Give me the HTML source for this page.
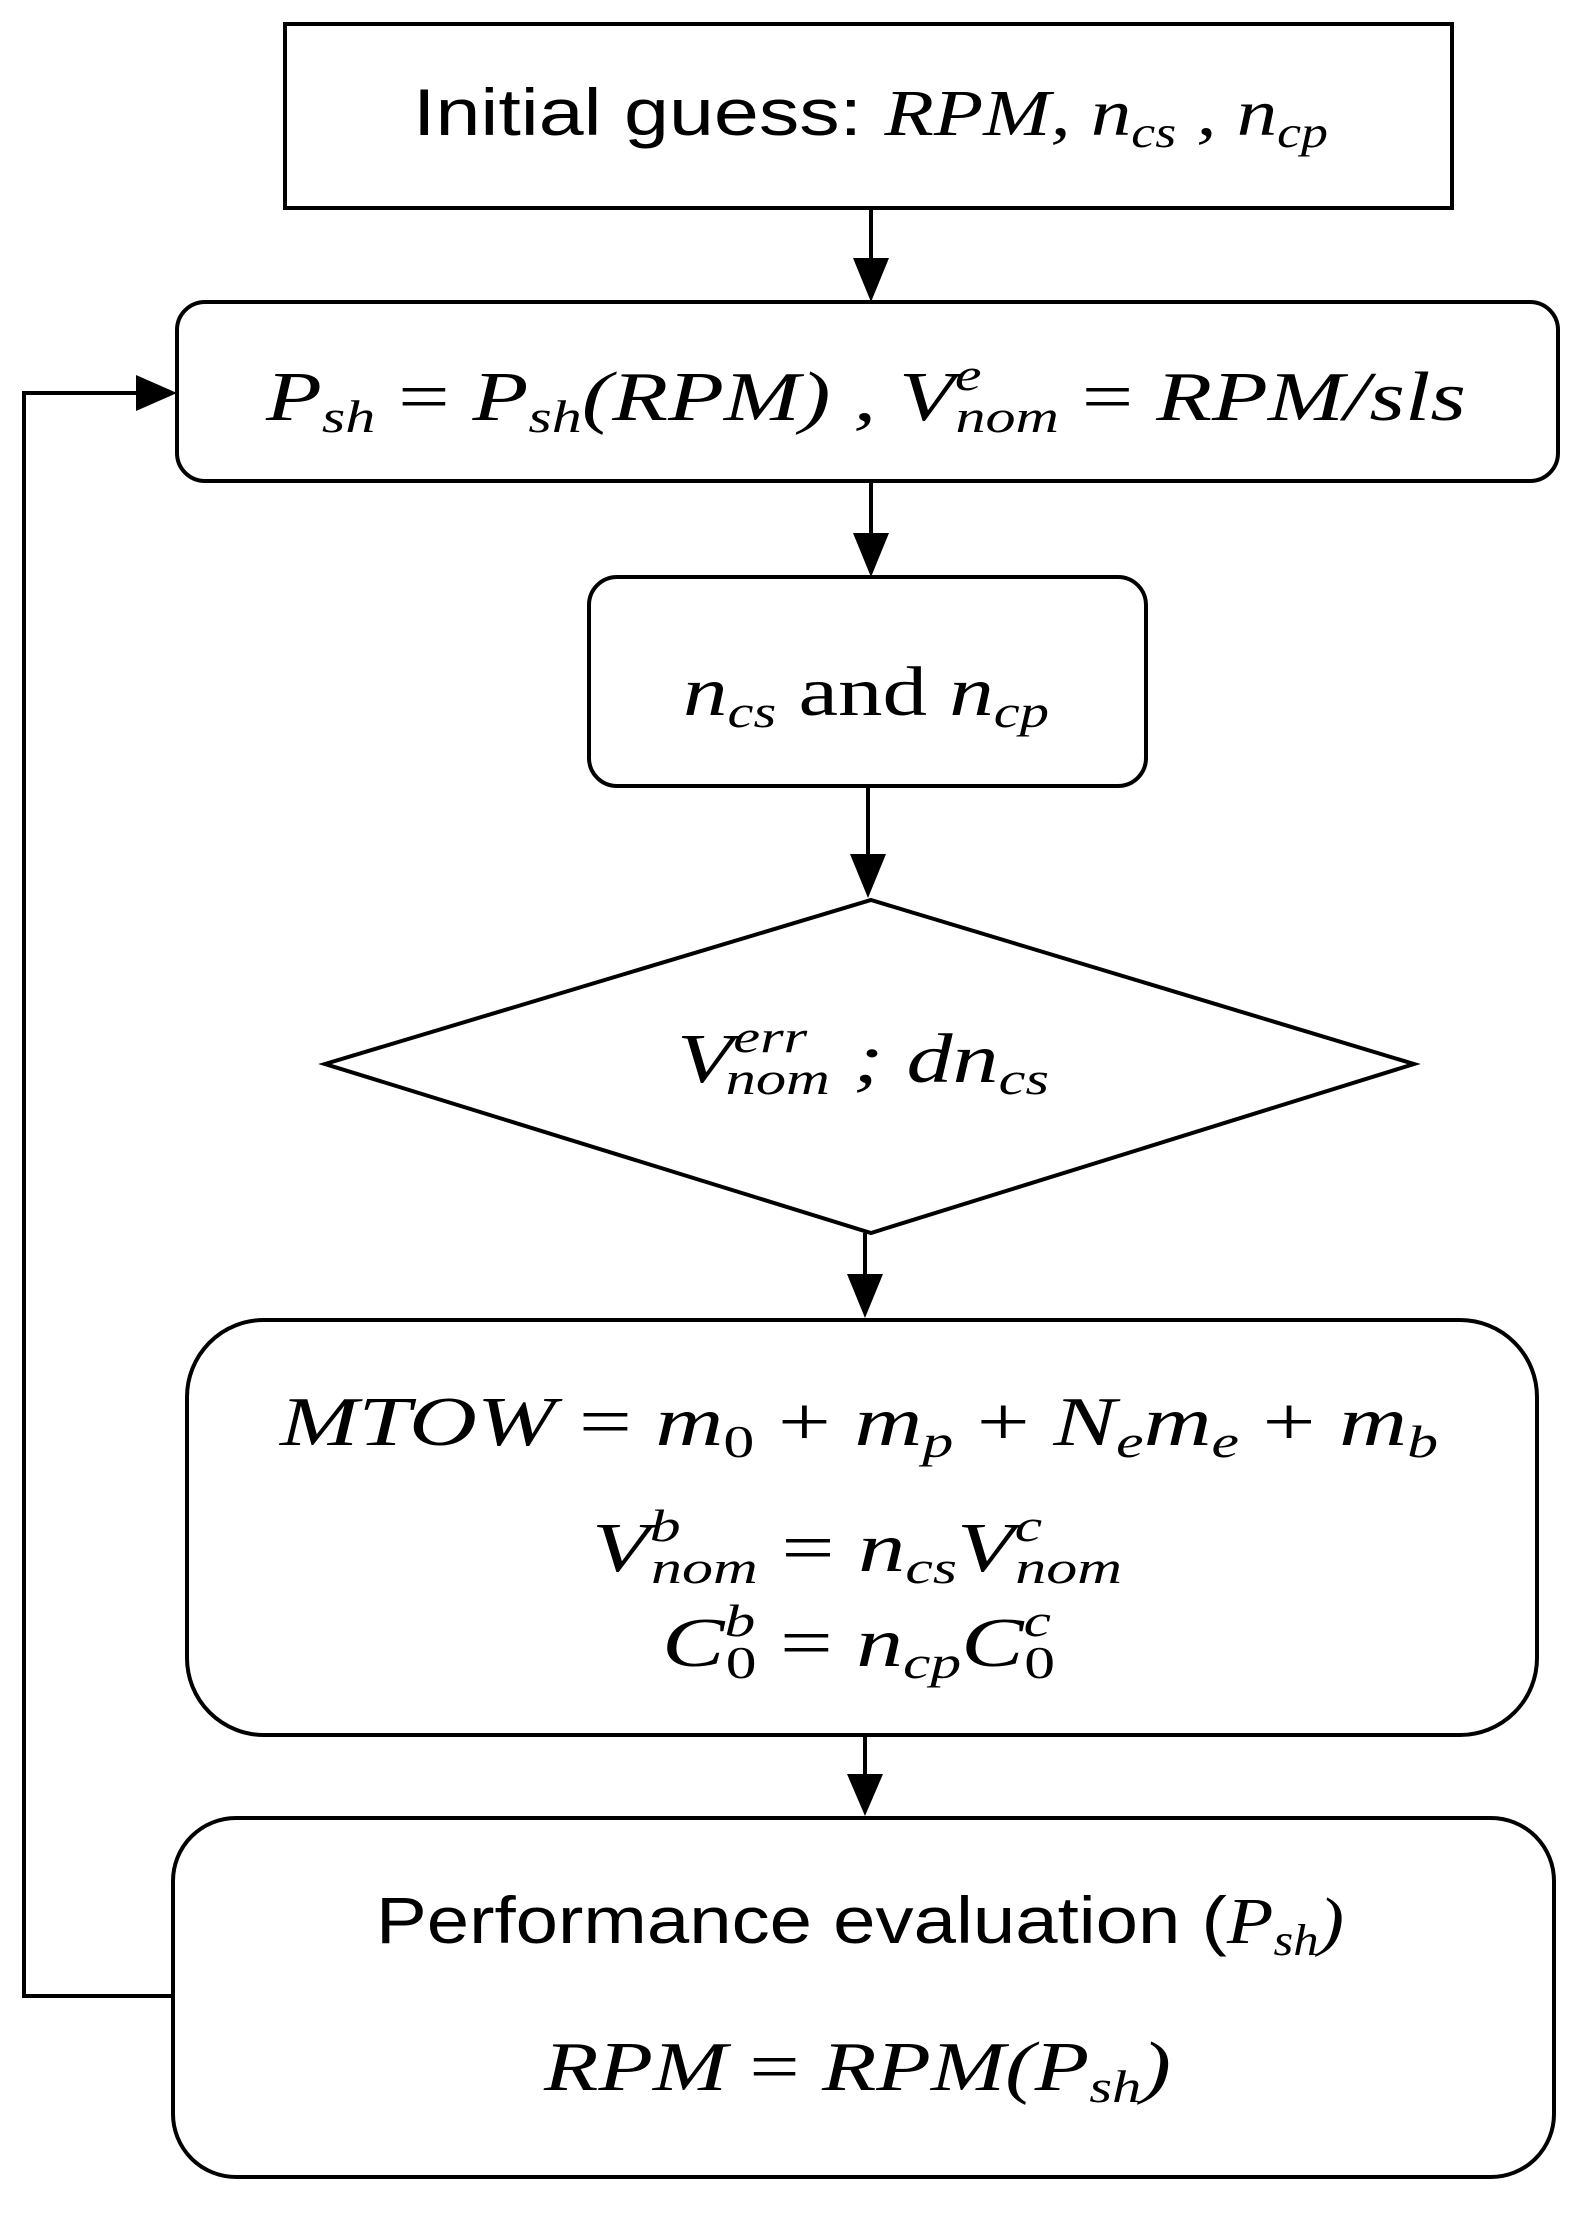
<!DOCTYPE html>
<html><head><meta charset="utf-8"><style>
html,body{margin:0;padding:0;background:#fff;}
svg{display:block;}
text{font-family:"Liberation Serif",serif;font-style:italic;fill:#000;}
.n{font-family:"Liberation Sans",sans-serif;font-style:normal;}
</style></head><body>
<svg width="1585" height="2215" viewBox="0 0 1585 2215" xmlns="http://www.w3.org/2000/svg">
<defs><marker id="a" markerWidth="10" markerHeight="10" refX="9" refY="5" orient="auto" markerUnits="userSpaceOnUse" viewBox="0 0 10 10"><path d="M0,0L10,5L0,10z"/></marker></defs>
<g fill="none" stroke="#000" stroke-width="4">
<rect x="285" y="24" width="1167" height="184"/>
<rect x="177" y="302" width="1381" height="179" rx="28"/>
<rect x="589" y="577" width="557" height="209" rx="28"/>
<polygon points="871,900 1414,1064 871,1233 325,1064"/>
<rect x="187" y="1320" width="1350" height="415" rx="77"/>
<rect x="173" y="1818" width="1381" height="359" rx="63"/>
<polyline points="173,1996 24,1996 24,393 140,393"/>
</g>
<g fill="#000">
<line x1="871" y1="208" x2="871" y2="260" stroke="#000" stroke-width="4"/><path d="M853,258L889,258L871,302z"/>
<path d="M136,375L136,411L177,393z"/>
<line x1="871" y1="481" x2="871" y2="535" stroke="#000" stroke-width="4"/><path d="M853,533L889,533L871,577z"/>
<line x1="868" y1="786" x2="868" y2="856" stroke="#000" stroke-width="4"/><path d="M850,854L886,854L868,898z"/>
<line x1="865" y1="1233" x2="865" y2="1276" stroke="#000" stroke-width="4"/><path d="M847,1274L883,1274L865,1318z"/>
<line x1="865" y1="1735" x2="865" y2="1776" stroke="#000" stroke-width="4"/><path d="M847,1774L883,1774L865,1816z"/>
</g>
<text x="413" y="135" font-size="66" textLength="915" lengthAdjust="spacingAndGlyphs"><tspan class="n">Initial guess: </tspan>RPM, n<tspan font-size="44" dy="12">cs</tspan><tspan dy="-12"> , n</tspan><tspan font-size="44" dy="12">cp</tspan></text>
<text x="266" y="420" font-size="70" textLength="1200" lengthAdjust="spacingAndGlyphs">P<tspan font-size="46" dy="12">sh</tspan><tspan dy="-12" font-style="normal"> = </tspan>P<tspan font-size="46" dy="12">sh</tspan><tspan dy="-12">(RPM) , V</tspan><tspan font-size="46" dy="-30">e</tspan><tspan font-size="46" dx="-20" dy="42">nom</tspan><tspan dy="-12" font-style="normal"> = </tspan>RPM/sls</text>
<text x="683" y="715" font-size="70" textLength="366" lengthAdjust="spacingAndGlyphs">n<tspan font-size="46" dy="12">cs</tspan><tspan dy="-12" font-style="normal"> and </tspan>n<tspan font-size="46" dy="12">cp</tspan></text>
<text x="677" y="1082" font-size="70" textLength="372" lengthAdjust="spacingAndGlyphs">V<tspan font-size="46" dy="-30">err</tspan><tspan font-size="46" dx="-62" dy="42">nom</tspan><tspan dy="-12"> ; dn</tspan><tspan font-size="46" dy="12">cs</tspan></text>
<text x="280" y="1445" font-size="70" textLength="1158" lengthAdjust="spacingAndGlyphs">MTOW<tspan font-style="normal"> = </tspan>m<tspan font-size="46" dy="12" font-style="normal">0</tspan><tspan dy="-12" font-style="normal"> + </tspan>m<tspan font-size="46" dy="12">p</tspan><tspan dy="-12" font-style="normal"> + </tspan>N<tspan font-size="46" dy="12">e</tspan><tspan dy="-12">m</tspan><tspan font-size="46" dy="12">e</tspan><tspan dy="-12" font-style="normal"> + </tspan>m<tspan font-size="46" dy="12">b</tspan></text>
<text x="592" y="1571" font-size="70" textLength="530" lengthAdjust="spacingAndGlyphs">V<tspan font-size="46" dy="-30">b</tspan><tspan font-size="46" dx="-22" dy="42">nom</tspan><tspan dy="-12" font-style="normal"> = </tspan>n<tspan font-size="46" dy="12">cs</tspan><tspan dy="-12">V</tspan><tspan font-size="46" dy="-30">c</tspan><tspan font-size="46" dx="-20" dy="42">nom</tspan></text>
<text x="662" y="1666" font-size="70" textLength="393" lengthAdjust="spacingAndGlyphs">C<tspan font-size="46" dy="-30">b</tspan><tspan font-size="46" dx="-22" dy="42" font-style="normal">0</tspan><tspan dy="-12" font-style="normal"> = </tspan>n<tspan font-size="46" dy="12">cp</tspan><tspan dy="-12">C</tspan><tspan font-size="46" dy="-30">c</tspan><tspan font-size="46" dx="-20" dy="42" font-style="normal">0</tspan></text>
<text x="376" y="1943" font-size="66" textLength="968" lengthAdjust="spacingAndGlyphs"><tspan class="n">Performance evaluation (</tspan>P<tspan font-size="44" dy="12">sh</tspan><tspan dy="-12">)</tspan></text>
<text x="544" y="2090" font-size="70" textLength="627" lengthAdjust="spacingAndGlyphs">RPM<tspan font-style="normal"> = </tspan>RPM(P<tspan font-size="46" dy="12">sh</tspan><tspan dy="-12">)</tspan></text>
</svg>
</body></html>
